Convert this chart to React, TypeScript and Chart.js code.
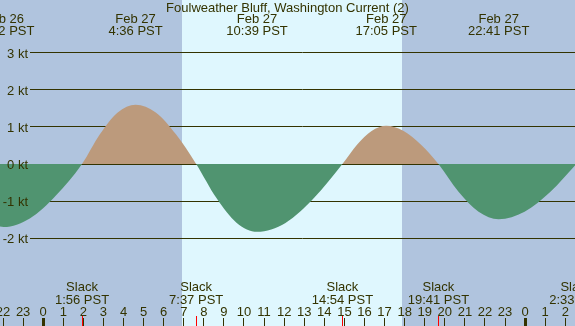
import React, { useEffect, useRef } from "react";
import { Chart, registerables } from "chart.js";
Chart.register(...registerables);

const TITLE = "Foulweather Bluff, Washington Current (2)";

// Current curve (hours from Feb 27 00:00, knots)
const curveHours = [-2.6, -1.967, -0.667, 0.633, 1.933, 2.822, 3.711, 4.6, 5.606, 6.611, 7.617, 8.628, 9.639, 10.65, 12.067, 13.483, 14.9, 15.628, 16.355, 17.083, 17.95, 18.817, 19.683, 20.683, 21.683, 22.683, 23.972, 25.261, 26.55, 27.2];
const curveKnots = [-1.62, -1.7, -1.47, -0.85, 0, 0.8, 1.39, 1.6, 1.39, 0.8, 0, -0.92, -1.59, -1.83, -1.59, -0.92, 0, 0.52, 0.89, 1.03, 0.89, 0.52, 0, -0.75, -1.29, -1.49, -1.29, -0.75, 0, 0.35];

// Max current events (top labels)
const peakHours = [-1.967, 4.6, 10.65, 17.083, 22.683];
const peakDates = ["Feb 26", "Feb 27", "Feb 27", "Feb 27", "Feb 27"];
const peakTimes = ["22:02 PST", "4:36 PST", "10:39 PST", "17:05 PST", "22:41 PST"];

// Slack events (bottom labels)
const slackHours = [1.933, 7.617, 14.9, 19.683, 26.55];
const slackTimes = ["1:56 PST", "7:37 PST", "14:54 PST", "19:41 PST", "2:33 PST"];

// Axis ticks
const knotTicks = [-2, -1, 0, 1, 2, 3];
const knotLabels = ["-2 kt", "-1 kt", "0 kt", "1 kt", "2 kt", "3 kt"];
const hourTicks = [-2, -1, 0, 1, 2, 3, 4, 5, 6, 7, 8, 9, 10, 11, 12, 13, 14, 15, 16, 17, 18, 19, 20, 21, 22, 23, 24, 25, 26];
const hourLabels = ["22", "23", "0", "1", "2", "3", "4", "5", "6", "7", "8", "9", "10", "11", "12", "13", "14", "15", "16", "17", "18", "19", "20", "21", "22", "23", "0", "1", "2"];
const midnightHours = [0, 24];

const sunrise = 6.93;
const sunset = 17.88;

const NIGHT = "#b0c4de";
const DAY = "#dff7fe";
const FLOOD = "#bc9a7c";
const EBB = "#509470";
const INK = "#333300";
const FONT = "13px 'Liberation Sans', Arial, sans-serif";

const decor = {
  id: "decor",
  beforeDraw(chart: any) {
    const { ctx, width, height } = chart;
    const xs = chart.scales.x;
    ctx.save();
    ctx.fillStyle = NIGHT;
    ctx.fillRect(0, 0, width, height);
    const a = Math.round(xs.getPixelForValue(sunrise));
    const b = Math.round(xs.getPixelForValue(sunset));
    ctx.fillStyle = DAY;
    ctx.fillRect(a, 0, b - a, height);
    ctx.restore();
  },
  beforeDatasetsDraw(chart: any) {
    const { ctx, width } = chart;
    const ys = chart.scales.y;
    ctx.save();
    ctx.strokeStyle = INK;
    ctx.lineWidth = 1;
    knotTicks.forEach((k) => {
      const y = Math.floor(ys.getPixelForValue(k) + 0.01) + 0.5;
      ctx.beginPath();
      ctx.moveTo(30, y);
      ctx.lineTo(width, y);
      ctx.stroke();
    });
    ctx.restore();
  },
  afterDatasetsDraw(chart: any) {
    const { ctx, width, height } = chart;
    const xs = chart.scales.x;
    const ys = chart.scales.y;
    ctx.save();
    ctx.font = FONT;
    ctx.fillStyle = INK;
    ctx.textBaseline = "alphabetic";

    // title
    ctx.textAlign = "center";
    ctx.fillText(TITLE, width / 2, 12);

    // y labels
    ctx.textAlign = "right";
    knotTicks.forEach((k, i) => {
      const y = ys.getPixelForValue(k);
      ctx.fillText(knotLabels[i], 28, y + 5);
    });

    // peak labels
    ctx.textAlign = "center";
    peakHours.forEach((h, i) => {
      const x = xs.getPixelForValue(h);
      ctx.fillText(peakDates[i], x, 23);
      ctx.fillText(peakTimes[i], x, 35);
    });

    // slack labels
    slackHours.forEach((h, i) => {
      const x = xs.getPixelForValue(h);
      ctx.fillText("Slack", x, 291);
      ctx.fillText(slackTimes[i], x, 304);
    });

    // hour labels and ticks
    hourTicks.forEach((h, i) => {
      const x = xs.getPixelForValue(h);
      ctx.fillText(hourLabels[i], x, 316);
      ctx.fillRect(Math.floor(x), 318, 1, height - 318);
    });
    midnightHours.forEach((h) => {
      const x = xs.getPixelForValue(h);
      ctx.fillRect(Math.floor(x) - 1, 318, 3, height - 318);
    });

    // slack ticks (red)
    ctx.fillStyle = "#ff0000";
    slackHours.forEach((h) => {
      const x = xs.getPixelForValue(h);
      ctx.fillRect(Math.floor(x), 316, 1, height - 316);
    });
    ctx.restore();
  },
};

export default function App() {
  const ref = useRef<HTMLCanvasElement | null>(null);
  useEffect(() => {
    if (!ref.current) return;
    const pts = curveHours.map((h, i) => ({ x: h, y: curveKnots[i] }));
    const chart = new Chart(ref.current, {
      type: "line",
      data: {
        datasets: [
          {
            data: pts,
            borderColor: "rgba(0,0,0,0)",
            borderWidth: 0,
            pointRadius: 0,
            cubicInterpolationMode: "monotone",
            fill: { target: { value: 0 }, above: FLOOD, below: EBB },
          } as any,
        ],
      },
      options: {
        animation: false,
        responsive: false,
        devicePixelRatio: 1,
        layout: { padding: 0 },
        events: [],
        plugins: { legend: { display: false }, tooltip: { enabled: false }, title: { display: false } },
        scales: {
          x: { type: "linear", display: false, min: -2.151, max: 26.484 },
          y: { type: "linear", display: false, min: -4.3701, max: 4.4241 },
        },
      },
      plugins: [decor],
    });
    return () => chart.destroy();
  }, []);
  return (
    <div style={{ position: "fixed", left: 0, top: 0, width: 575, height: 326 }}>
      <canvas ref={ref} width={575} height={326} style={{ display: "block" }} />
    </div>
  );
}
